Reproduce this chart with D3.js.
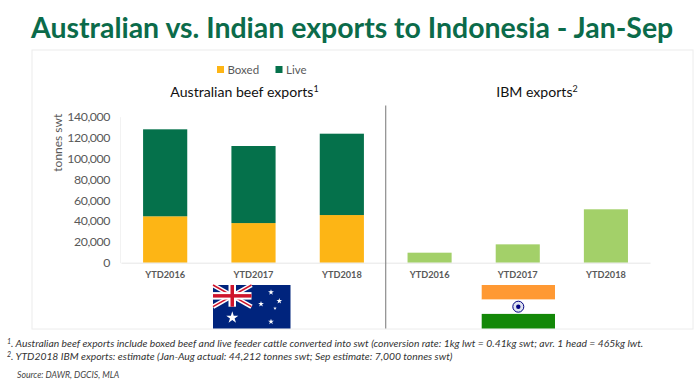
<!DOCTYPE html>
<html>
<head>
<meta charset="utf-8">
<script src="https://cdn.jsdelivr.net/npm/d3@7"></script>
<style>
html, body { margin: 0; padding: 0; background: #fff; }
svg { display: block; }
text { font-family: Lato, "Open Sans", sans-serif; }
</style>
</head>
<body>
<svg id="chart" width="700" height="386"></svg>
<script>
var years = ["YTD2016", "YTD2017", "YTD2018"];
var boxed = [44500, 38000, 45700];
var live = [83400, 73900, 78000];
var ibm = [9600, 17600, 51200];
var yTicks = [0, 20000, 40000, 60000, 80000, 100000, 120000, 140000];
var legendItems = ["Boxed", "Live"];
var notes = [
  ["1", ". Australian beef exports include boxed beef and live feeder cattle converted into swt (conversion rate: 1kg lwt = 0.41kg swt; avr. 1 head = 465kg lwt."],
  ["2", ". YTD2018 IBM exports: estimate (Jan-Aug actual: 44,212 tonnes swt; Sep estimate: 7,000 tonnes swt)"]
];

var green = "#05714b", yellow = "#fdb515", lightGreen = "#a3d069", grey = "#595959";

var svg = d3.select("#chart");

svg.append("text")
    .attr("x", 31)
    .attr("y", 38)
    .attr("font-size", 28.45)
    .attr("font-weight", 700)
    .attr("fill", "#0b6b4a")
    .text("Australian vs. Indian exports to Indonesia - Jan-Sep");

// frame
svg.append("rect")
    .attr("x", 32).attr("y", 50)
    .attr("width", 661).attr("height", 279)
    .attr("fill", "none")
    .attr("stroke", "#ececec");

var yScale = d3.scaleLinear().domain([0, 140000]).range([262.7, 116.7]);
var x1 = d3.scaleBand().domain(years).range([121, 386]).paddingInner(0.5).paddingOuter(0.25);
var x2 = d3.scaleBand().domain(years).range([385.5, 650]).paddingInner(0.5).paddingOuter(0.25);

// left axis
var yAxis = svg.append("g")
    .attr("transform", "translate(120,0)")
    .call(d3.axisLeft(yScale).tickValues(yTicks).tickSize(0).tickPadding(10).tickFormat(d3.format(",")));
yAxis.select(".domain").attr("stroke", "#f2f2f2");
yAxis.selectAll("text")
    .attr("font-size", 12.3)
    .attr("letter-spacing", -0.4)
    .attr("fill", grey)
    .style("font-family", "Lato, sans-serif");

svg.append("text")
    .attr("transform", "translate(62,142.7) rotate(-90)")
    .attr("text-anchor", "middle")
    .attr("font-size", 12)
    .attr("fill", grey)
    .text("tonnes swt");

// stacked bars
var stackRows = years.map((y, i) => ({year: y, Boxed: boxed[i], Live: live[i]}));
var stacked = d3.stack().keys(legendItems)(stackRows);
var stackColor = d3.scaleOrdinal().domain(legendItems).range([yellow, green]);

svg.append("g").selectAll("g")
    .data(stacked)
    .enter().append("g")
    .attr("fill", d => stackColor(d.key))
    .selectAll("rect")
    .data(d => d)
    .enter().append("rect")
    .attr("x", d => x1(d.data.year))
    .attr("y", d => yScale(d[1]))
    .attr("width", x1.bandwidth())
    .attr("height", d => yScale(d[0]) - yScale(d[1]));

svg.append("g").selectAll("rect")
    .data(ibm)
    .enter().append("rect")
    .attr("x", (d, i) => x2(years[i]))
    .attr("y", d => yScale(d))
    .attr("width", x2.bandwidth())
    .attr("height", d => yScale(0) - yScale(d))
    .attr("fill", lightGreen);

// bottom axes
[x1, x2].forEach(function (x) {
  var ax = svg.append("g")
      .attr("transform", "translate(0,262.7)")
      .call(d3.axisBottom(x).tickSize(0).tickPadding(9));
  ax.select(".domain").attr("stroke", "#e6e6e6");
  ax.selectAll("text")
      .attr("font-size", 9.2)
      .attr("font-weight", 700)
      .attr("fill", grey)
      .style("font-family", "Lato, sans-serif");
});

// divider
svg.append("line")
    .attr("x1", 385.7).attr("x2", 385.7)
    .attr("y1", 105.5).attr("y2", 328.5)
    .attr("stroke", "#8c8c8c")
    .attr("stroke-width", 1.2);

// legend
var legendX = d3.scaleOrdinal().domain(legendItems).range([217, 275.5]);
var legend = svg.append("g").selectAll("g")
    .data(legendItems)
    .enter().append("g")
    .attr("transform", d => `translate(${legendX(d)},66)`);
legend.append("rect")
    .attr("width", 7).attr("height", 7)
    .attr("fill", d => stackColor(d));
legend.append("text")
    .attr("x", 10.5).attr("y", 7.8)
    .attr("font-size", 11.5)
    .attr("fill", grey)
    .text(d => d);

function chartTitle(x, label, sup) {
  var t = svg.append("text")
      .attr("x", x).attr("y", 97)
      .attr("text-anchor", "middle")
      .attr("font-size", 14.1)
      .attr("fill", "#111");
  t.append("tspan").text(label);
  t.append("tspan").attr("font-size", 9).attr("dy", -5).text(sup);
}
chartTitle(244.5, "Australian beef exports", "1");
chartTitle(537, "IBM exports", "2");

// flags
var au = svg.append("g").attr("transform", "translate(213,285)");
au.append("rect").attr("width", 77.5).attr("height", 43.5).attr("fill", "#00247d");
var jack = au.append("g");
[[0, 0, 38.5, 21.7], [38.5, 0, 0, 21.7]].forEach(function (c) {
  jack.append("line").attr("x1", c[0]).attr("y1", c[1]).attr("x2", c[2]).attr("y2", c[3])
      .attr("stroke", "#fff").attr("stroke-width", 4.5);
  jack.append("line").attr("x1", c[0]).attr("y1", c[1]).attr("x2", c[2]).attr("y2", c[3])
      .attr("stroke", "#cf142b").attr("stroke-width", 1.5);
});
jack.append("rect").attr("x", 15.5).attr("width", 7.5).attr("height", 21.7).attr("fill", "#fff");
jack.append("rect").attr("y", 7.1).attr("width", 38.5).attr("height", 7.5).attr("fill", "#fff");
jack.append("rect").attr("x", 17.5).attr("width", 3.5).attr("height", 21.7).attr("fill", "#cf142b");
jack.append("rect").attr("y", 9.1).attr("width", 38.5).attr("height", 3.5).attr("fill", "#cf142b");
var stars = [[19.3, 32.7, 5], [58, 7.3, 2.4], [48, 19, 2.4], [66.3, 16, 2.4], [62, 23.3, 1.5], [58, 36.7, 2.4]];
au.selectAll(".star")
    .data(stars)
    .enter().append("path")
    .attr("class", "star")
    .attr("transform", d => `translate(${d[0]},${d[1]})`)
    .attr("d", d => d3.symbol(d3.symbolStar, d[2] * d[2] * 1.8)())
    .attr("fill", "#fff");

var ind = svg.append("g").attr("transform", "translate(481.7,285)");
ind.append("rect").attr("width", 73.3).attr("height", 14.6).attr("fill", "#ff9933");
ind.append("rect").attr("y", 14.6).attr("width", 73.3).attr("height", 14.3).attr("fill", "#fff");
ind.append("rect").attr("y", 28.9).attr("width", 73.3).attr("height", 14.6).attr("fill", "#138808");
ind.append("circle").attr("cx", 36.6).attr("cy", 21.7).attr("r", 5.5)
    .attr("fill", "#dfe3f0").attr("stroke", "#000080").attr("stroke-width", 1);
ind.append("circle").attr("cx", 36.6).attr("cy", 21.7).attr("r", 2.2).attr("fill", "#000080");

// footnotes
notes.forEach(function (n, i) {
  var t = svg.append("text")
      .attr("x", 7).attr("y", 346.7 + i * 13.3)
      .attr("font-size", 10.32)
      .attr("font-style", "italic")
      .attr("fill", "#333");
  t.append("tspan").attr("font-size", 7).attr("dy", -3).text(n[0]);
  t.append("tspan").attr("dy", 3).text(n[1]);
});
svg.append("text")
    .attr("x", 17).attr("y", 378)
    .attr("font-size", 8.7)
    .attr("font-style", "italic")
    .attr("fill", "#444")
    .text("Source: DAWR, DGCIS, MLA");
</script>
</body>
</html>
